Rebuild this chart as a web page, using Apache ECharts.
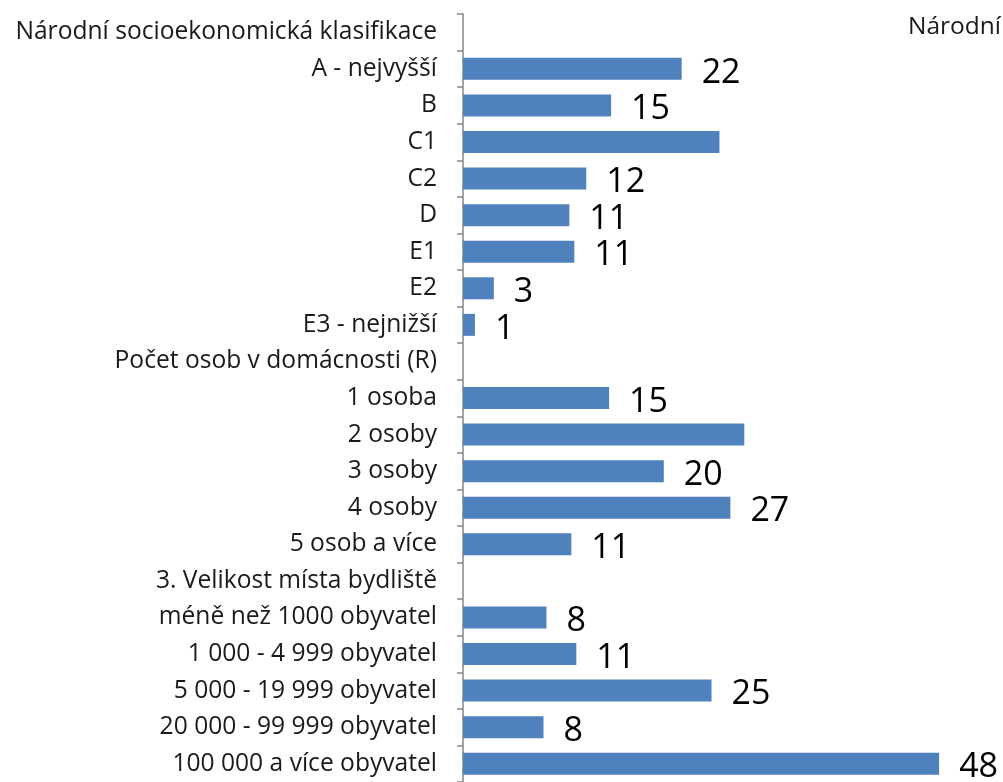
<!DOCTYPE html>
<html>
<head>
<meta charset="utf-8">
<script src="https://cdn.jsdelivr.net/npm/echarts@6/dist/echarts.min.js"></script>
<style>
  html, body { margin: 0; padding: 0; background: #fff; }
  #chart { width: 1003px; height: 782px; }
</style>
</head>
<body>
<div id="chart"></div>
<script>
  // kategorie (shora dolů), nadpisy skupin nemají hodnotu
  var categories = [
    'Národní socioekonomická klasifikace',
    'A - nejvyšší', 'B', 'C1', 'C2', 'D', 'E1', 'E2', 'E3 - nejnižší',
    'Počet osob v domácnosti (R)',
    '1 osoba', '2 osoby', '3 osoby', '4 osoby', '5 osob a více',
    '3. Velikost místa bydliště',
    'méně než 1000 obyvatel', '1 000 - 4 999 obyvatel', '5 000 - 19 999 obyvatel',
    '20 000 - 99 999 obyvatel', '100 000 a více obyvatel'
  ];
  // délky pruhů
  var values = [
    null,
    22, 14.9, 25.8, 12.4, 10.7, 11.2, 3.1, 1.2,
    null,
    14.7, 28.3, 20.2, 26.9, 10.9,
    null,
    8.4, 11.4, 25, 8.1, 47.9
  ];
  // u C1 a 2 osoby popisek v originále chybí
  var hiddenLabels = ['C1', '2 osoby'];

  var chart = echarts.init(document.getElementById('chart'));

  var data = values.map(function (v, i) {
    var item = { value: v };
    if (hiddenLabels.indexOf(categories[i]) >= 0) item.label = { show: false };
    return item;
  });

  var option = {
    animation: false,
    textStyle: { fontFamily: '"Open Sans", sans-serif' },
    title: {
      text: 'Národní',
      left: 903,
      top: 10,
      textStyle: { fontSize: 24.5, fontWeight: 'normal', color: '#1a1a1a', fontFamily: '"Open Sans", sans-serif' }
    },
    grid: {
      left: 463,
      right: 43,
      top: 14,
      bottom: -6
    },
    xAxis: {
      type: 'value',
      min: 0,
      max: 50,
      show: false
    },
    yAxis: {
      type: 'category',
      inverse: true,
      data: categories,
      axisLine: { lineStyle: { color: '#868686', width: 1.5 } },
      axisTick: { show: true, length: 6, lineStyle: { color: '#868686', width: 1.5 } },
      axisLabel: {
        margin: 26,
        fontSize: 24.6,
        color: '#1a1a1a',
        interval: 0
      }
    },
    series: [{
      type: 'bar',
      data: data,
      barWidth: 22,
      itemStyle: { color: '#4F81BD' },
      label: {
        show: true,
        position: 'right',
        distance: 20,
        fontSize: 34,
        color: '#000',
        offset: [0, 4],
        formatter: function (p) { return Math.round(p.value); }
      }
    }]
  };
  chart.setOption(option);
</script>
</body>
</html>
